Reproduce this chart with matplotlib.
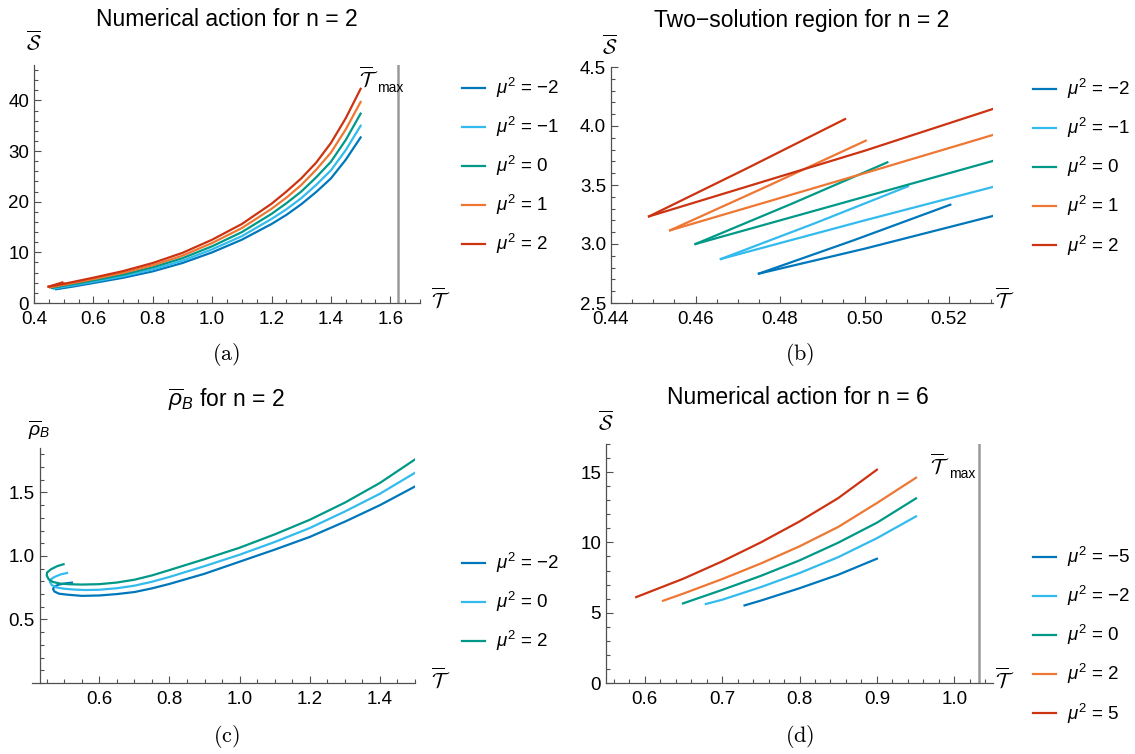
import matplotlib
matplotlib.use("Agg")
import matplotlib.pyplot as plt
from matplotlib.ticker import MultipleLocator, FixedLocator

plt.rcParams['font.family'] = ['Liberation Sans', 'DejaVu Sans']
plt.rcParams['mathtext.fontset'] = 'custom'
plt.rcParams['mathtext.rm'] = 'Liberation Sans'
plt.rcParams['mathtext.it'] = 'Liberation Sans:italic'
plt.rcParams['mathtext.bf'] = 'Liberation Sans:bold'

# colours (mu^2 from lowest to highest)
colors = ['#0077BB', '#33BBEE', '#009988', '#EE7733', '#CC3311']

# ---- n = 2 action: mu^2 = -2, -1, 0, 1, 2 ----
mu2_n2 = [-2, -1, 0, 1, 2]
T_max_n2 = 1.627
cusp_T = [0.475, 0.466, 0.460, 0.454, 0.449]
cusp_S = [2.749, 2.873, 3.000, 3.116, 3.234]
# upper (short) branch: mid point and end point
upper_T = [[0.4977, 0.5203], [0.4882, 0.5103], [0.4827, 0.5054], [0.4770, 0.5003], [0.4721, 0.4954]]
upper_S = [[3.035, 3.333], [3.175, 3.489], [3.340, 3.692], [3.490, 3.876], [3.640, 4.059]]
# lower (long) branch
T_lower = [0.50, 0.53, 0.60, 0.70, 0.80, 0.90, 1.00, 1.10, 1.20, 1.25, 1.30, 1.35, 1.40, 1.45, 1.50]
S_lower = [
    [2.96, 3.234, 3.95, 4.98, 6.25, 7.90, 10.0, 12.5, 15.6, 17.4, 19.5, 21.9, 24.6, 28.3, 32.7],
    [3.20, 3.48, 4.20, 5.30, 6.65, 8.35, 10.6, 13.2, 16.6, 18.5, 20.7, 23.3, 26.2, 30.2, 35.0],
    [3.40, 3.70, 4.45, 5.60, 7.05, 8.85, 11.2, 14.0, 17.6, 19.7, 22.0, 24.8, 27.9, 32.2, 37.4],
    [3.60, 3.92, 4.72, 5.95, 7.45, 9.35, 11.85, 14.8, 18.6, 20.8, 23.3, 26.3, 29.7, 34.3, 39.7],
    [3.79, 4.14, 5.00, 6.30, 7.90, 9.90, 12.5, 15.6, 19.6, 22.0, 24.6, 27.7, 31.6, 36.5, 42.3],
]

# ---- n = 2 rho_B: mu^2 = -2, 0, 2 ----
mu2_rho = [-2, 0, 2]
rho_T = [
    [0.522, 0.505, 0.485, 0.472, 0.468, 0.472, 0.485, 0.51, 0.55, 0.60, 0.65, 0.70, 0.75, 0.80, 0.90, 1.00, 1.10, 1.20, 1.30, 1.40, 1.50],
    [0.508, 0.49, 0.472, 0.461, 0.459, 0.465, 0.478, 0.50, 0.53, 0.56, 0.60, 0.65, 0.70, 0.75, 0.80, 0.90, 1.00, 1.10, 1.20, 1.30, 1.40, 1.50],
    [0.498, 0.48, 0.462, 0.451, 0.450, 0.456, 0.468, 0.49, 0.52, 0.55, 0.60, 0.65, 0.70, 0.75, 0.80, 0.90, 1.00, 1.10, 1.20, 1.30, 1.40, 1.50],
]
rho_B = [
    [0.790, 0.785, 0.775, 0.760, 0.740, 0.720, 0.703, 0.695, 0.686, 0.689, 0.700, 0.716, 0.745, 0.780, 0.860, 0.955, 1.05, 1.15, 1.27, 1.40, 1.547],
    [0.866, 0.855, 0.835, 0.815, 0.795, 0.770, 0.752, 0.742, 0.735, 0.732, 0.734, 0.746, 0.766, 0.797, 0.835, 0.920, 1.01, 1.11, 1.22, 1.35, 1.49, 1.655],
    [0.935, 0.920, 0.895, 0.870, 0.845, 0.815, 0.795, 0.782, 0.777, 0.775, 0.778, 0.791, 0.813, 0.847, 0.889, 0.975, 1.065, 1.17, 1.285, 1.42, 1.575, 1.76],
]

# ---- n = 6 action: mu^2 = -5, -2, 0, 2, 5 ----
mu2_n6 = [-5, -2, 0, 2, 5]
T_max_n6 = 1.032
T_n6 = [
    [0.729, 0.75, 0.80, 0.85, 0.90],
    [0.679, 0.70, 0.75, 0.80, 0.85, 0.90, 0.9505],
    [0.6495, 0.70, 0.75, 0.80, 0.85, 0.90, 0.9505],
    [0.6237, 0.65, 0.70, 0.75, 0.80, 0.85, 0.90, 0.9505],
    [0.589, 0.65, 0.70, 0.75, 0.80, 0.85, 0.90],
]
S_n6 = [
    [5.52, 5.86, 6.74, 7.70, 8.84],
    [5.62, 5.92, 6.82, 7.82, 8.95, 10.3, 11.85],
    [5.66, 6.62, 7.62, 8.72, 9.98, 11.4, 13.13],
    [5.85, 6.36, 7.39, 8.50, 9.72, 11.1, 12.8, 14.6],
    [6.11, 7.42, 8.65, 10.0, 11.49, 13.15, 15.17],
]

W, H = 1135, 754
fig = plt.figure(figsize=(W / 100, H / 100), dpi=100)


def axes_px(l, t, r, b):
    return fig.add_axes([l / W, 1 - b / H, (r - l) / W, (b - t) / H])


def ftext(x, y, s, **kw):
    kw.setdefault('ha', 'center')
    kw.setdefault('va', 'center')
    fig.text(x / W, 1 - y / H, s, **kw)


def style(ax, xmaj, xmin, ymaj, ymin):
    for s in ['top', 'right']:
        ax.spines[s].set_visible(False)
    for s in ['left', 'bottom']:
        ax.spines[s].set_color('#505050')
        ax.spines[s].set_linewidth(0.9)
    ax.xaxis.set_major_locator(MultipleLocator(xmaj))
    ax.xaxis.set_minor_locator(MultipleLocator(xmin))
    if isinstance(ymaj, list):
        ax.yaxis.set_major_locator(FixedLocator(ymaj))
    else:
        ax.yaxis.set_major_locator(MultipleLocator(ymaj))
    ax.yaxis.set_minor_locator(MultipleLocator(ymin))
    ax.tick_params(which='both', direction='in', color='#505050', labelsize=13.5, width=0.8)
    ax.tick_params(which='major', length=5)
    ax.tick_params(which='minor', length=3)
    ax.tick_params(axis='x', pad=6)
    ax.tick_params(axis='y', pad=3.5)


def legend(ax, handles, labels, x, y):
    ax.legend(handles, labels, loc='upper left', bbox_to_anchor=(x / W, 1 - y / H),
              bbox_transform=fig.transFigure, frameon=False, fontsize=13.5,
              handlelength=1.23, handletextpad=0.6, labelspacing=0.8,
              borderpad=0, borderaxespad=0)


def mu_label(m):
    return r'$\mu^2$ = ' + str(m).replace('-', '\u2212')


lw = 1.6
Tbar = r'$\overline{\mathcal{T}}$'
Sbar = r'$\overline{\mathcal{S}}$'

# (a) numerical action n = 2
ax = axes_px(34, 65, 420, 303)
handles = []
for i in range(5):
    xs = [cusp_T[i]] + T_lower
    ys = [cusp_S[i]] + S_lower[i]
    h, = ax.plot(xs, ys, color=colors[i], lw=lw)
    ax.plot([cusp_T[i]] + upper_T[i], [cusp_S[i]] + upper_S[i], color=colors[i], lw=lw)
    handles.append(h)
ax.axvline(T_max_n2, color='#999999', lw=1.8)
ax.set_xlim(0.4, 1.70)
ax.set_ylim(0, 47)
style(ax, 0.2, 0.05, 10, 2)
legend(ax, handles, [mu_label(m) for m in mu2_n2], 462, 76)
ftext(227, 19, 'Numerical action for n = 2', fontsize=16.5)
ftext(34, 43, Sbar, math_fontfamily='cm', fontsize=15)
ftext(441, 300, Tbar, math_fontfamily='cm', fontsize=15)
ftext(369, 79, Tbar, math_fontfamily='cm', fontsize=15)
ftext(390, 88, 'max', fontsize=10)
ftext(226, 355, r'$\mathrm{(a)}$', math_fontfamily='cm', fontsize=16)

# (b) two-solution region n = 2
ax = axes_px(611, 67, 993, 303)
handles = []
for i in range(5):
    xs = [cusp_T[i]] + T_lower
    ys = [cusp_S[i]] + S_lower[i]
    h, = ax.plot(xs, ys, color=colors[i], lw=lw)
    ax.plot([cusp_T[i]] + upper_T[i], [cusp_S[i]] + upper_S[i], color=colors[i], lw=lw)
    handles.append(h)
ax.set_xlim(0.44, 0.5304)
ax.set_ylim(2.5, 4.5)
style(ax, 0.02, 0.005, 0.5, 0.1)
legend(ax, handles, [mu_label(m) for m in mu2_n2], 1033, 77)
ftext(802, 20, 'Two\u2212solution region for n = 2', fontsize=16.5)
ftext(610, 47, Sbar, math_fontfamily='cm', fontsize=15)
ftext(1005, 300, Tbar, math_fontfamily='cm', fontsize=15)
ftext(800, 355, r'$\mathrm{(b)}$', math_fontfamily='cm', fontsize=16)

# (c) rho_B n = 2
ax = axes_px(32, 448, 415, 683)
handles = []
for i in range(3):
    h, = ax.plot(rho_T[i], rho_B[i], color=colors[i], lw=lw)
    handles.append(h)
ax.set_xlim(0.408, 1.5)
ax.set_ylim(0, 1.85)
ax.spines['left'].set_position(('data', 0.43))
style(ax, 0.2, 0.05, [0.5, 1.0, 1.5], 0.1)
legend(ax, handles, [mu_label(m) for m in mu2_rho], 462, 551)
ftext(226, 400, r'$\overline{\rho}_B$ for n = 2', fontsize=16.5)
ftext(39, 430, r'$\overline{\rho}_B$', fontsize=14)
ftext(441, 680, Tbar, math_fontfamily='cm', fontsize=15)
ftext(226, 737, r'$\mathrm{(c)}$', math_fontfamily='cm', fontsize=16)

# (d) numerical action n = 6
ax = axes_px(606, 444, 993, 683)
handles = []
for i in range(5):
    h, = ax.plot(T_n6[i], S_n6[i], color=colors[i], lw=lw)
    handles.append(h)
ax.axvline(T_max_n6, color='#999999', lw=1.8)
ax.set_xlim(0.55, 1.05)
ax.set_ylim(0, 17)
style(ax, 0.1, 0.02, 5, 1)
legend(ax, handles, [mu_label(m) for m in mu2_n6], 1033, 545)
ftext(798, 398, 'Numerical action for n = 6', fontsize=16.5)
ftext(606, 423, Sbar, math_fontfamily='cm', fontsize=15)
ftext(1005, 680, Tbar, math_fontfamily='cm', fontsize=15)
ftext(940, 466, Tbar, math_fontfamily='cm', fontsize=15)
ftext(962, 474, 'max', fontsize=10)
ftext(800, 737, r'$\mathrm{(d)}$', math_fontfamily='cm', fontsize=16)

fig.savefig('out.png', dpi=100)
